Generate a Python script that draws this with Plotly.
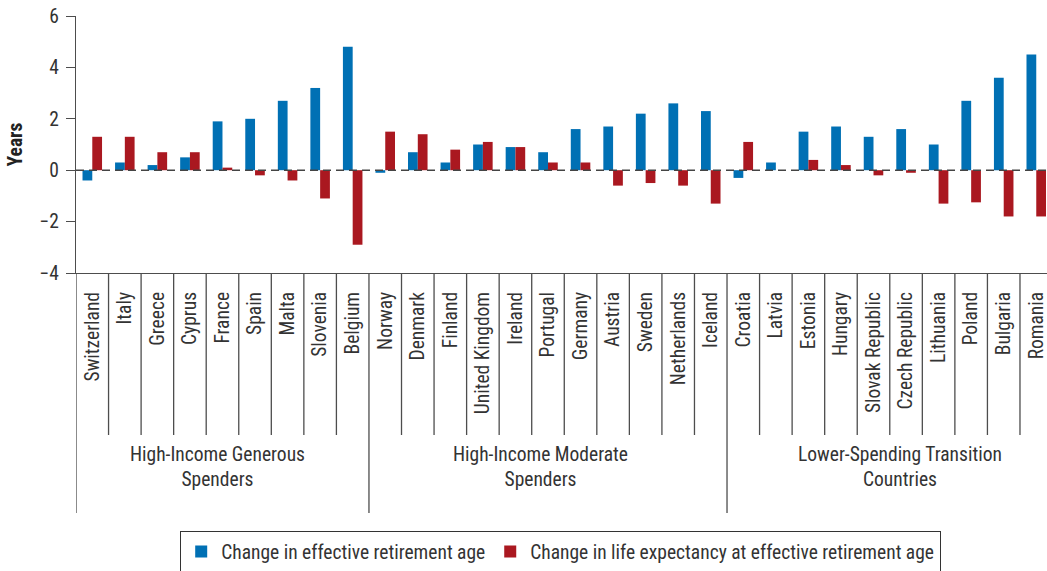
import plotly.graph_objects as go

countries = ["Switzerland", "Italy", "Greece", "Cyprus", "France", "Spain", "Malta",
             "Slovenia", "Belgium", "Norway", "Denmark", "Finland", "United Kingdom",
             "Ireland", "Portugal", "Germany", "Austria", "Sweden", "Netherlands",
             "Iceland", "Croatia", "Latvia", "Estonia", "Hungary", "Slovak Republic",
             "Czech Republic", "Lithuania", "Poland", "Bulgaria", "Romania"]
retirement_age = [-0.4, 0.3, 0.2, 0.5, 1.9, 2.0, 2.7, 3.2, 4.8,
                  -0.1, 0.7, 0.3, 1.0, 0.9, 0.7, 1.6, 1.7, 2.2, 2.6, 2.3,
                  -0.3, 0.3, 1.5, 1.7, 1.3, 1.6, 1.0, 2.7, 3.6, 4.5]
life_expectancy = [1.3, 1.3, 0.7, 0.7, 0.1, -0.2, -0.4, -1.1, -2.9,
                   1.5, 1.4, 0.8, 1.1, 0.9, 0.3, 0.3, -0.6, -0.5, -0.6, -1.3,
                   1.1, 0.0, 0.4, 0.2, -0.2, -0.1, -1.3, -1.25, -1.8, -1.8]
group_labels = ["High-Income Generous<br>Spenders",
                "High-Income Moderate<br>Spenders",
                "Lower-Spending Transition<br>Countries"]
group_sizes = [9, 11, 10]
series_names = ["Change in effective retirement age",
                "Change in life expectancy at effective retirement age"]
y_ticks = [-4, -2, 0, 2, 4, 6]

FONT = "Liberation Sans Narrow, Roboto Condensed, DejaVu Sans Condensed, Arial Narrow, sans-serif"
FS = 19.5
TXT = "#333333"
LINE = "#4d4d4d"
BLUE = "#0070b4"
RED = "#aa1820"

W, H = 1047, 571
ML, MT, MB = 76, 16, 298
plot_h = H - MT - MB


def ypaper(px):
    return (H - MB - px) / plot_h


fig = go.Figure()
fig.add_trace(go.Bar(x=countries, y=retirement_age, name=series_names[0],
                     marker=dict(color=BLUE, line=dict(width=0))))
fig.add_trace(go.Bar(x=countries, y=life_expectancy, name=series_names[1],
                     marker=dict(color=RED, line=dict(width=0))))

shapes = []
# dashed zero line on top of bars
shapes.append(dict(type="line", xref="paper", yref="y", x0=0, x1=1, y0=0, y1=0,
                   line=dict(color="#444444", width=1.5, dash="8px,5px"), layer="above"))
# category separators and group boundaries
boundaries = set()
acc = 0
for s in group_sizes:
    boundaries.add(acc)
    acc += s
for i in range(len(countries)):
    long = i in boundaries
    shapes.append(dict(type="line", xref="x", yref="paper", x0=i - 0.5, x1=i - 0.5,
                       y0=0, y1=ypaper(513 if long else 435),
                       line=dict(color=LINE, width=1.3), layer="above"))

annotations = []
offsets = [-0.14, -0.23, 0.3]
start = 0
for lab, s, off in zip(group_labels, group_sizes, offsets):
    center = start + (s - 1) / 2 + off
    annotations.append(dict(text=lab, xref="x", yref="paper", x=center, y=ypaper(467),
                            showarrow=False, xanchor="center", yanchor="middle",
                            font=dict(family=FONT, size=FS, color=TXT)))
    start += s

fig.update_layout(
    width=W, height=H,
    margin=dict(l=ML, r=0, t=MT, b=MB, autoexpand=False),
    paper_bgcolor="white", plot_bgcolor="white",
    font=dict(family=FONT, size=FS, color=TXT),
    barmode="group", bargap=0.40, bargroupgap=0,
    showlegend=True,
    legend=dict(orientation="h", xref="paper", yref="paper",
                x=(180 - ML) / (W - ML), xanchor="left",
                y=ypaper(531), yanchor="top",
                bordercolor="#333333", borderwidth=1.2,
                font=dict(family=FONT, size=FS, color=TXT),
                itemclick=False, itemdoubleclick=False),
    xaxis=dict(type="category", range=[-0.5, len(countries) - 0.5 - 0.17],
               showline=True, linecolor=LINE, linewidth=1.3,
               showgrid=False, zeroline=False, ticks="",
               tickangle=-90, ticklabelstandoff=10,
               tickfont=dict(family=FONT, size=FS, color=TXT)),
    yaxis=dict(range=[-4, 6], tickvals=y_ticks, showline=True, linecolor=LINE,
               linewidth=1.3, showgrid=False, zeroline=False,
               ticks="outside", ticklen=9, tickcolor=LINE, tickwidth=1.3,
               ticklabelstandoff=3,
               tickfont=dict(family=FONT, size=FS, color=TXT),
               title=dict(text="<b>Years</b>", standoff=11,
                          font=dict(family=FONT, size=FS, color="#222222"))),
    shapes=shapes,
    annotations=annotations,
)

fig.write_html("out.html", config={"displayModeBar": False},
               post_script="document.body.style.margin='0';document.body.style.overflow='hidden';")
